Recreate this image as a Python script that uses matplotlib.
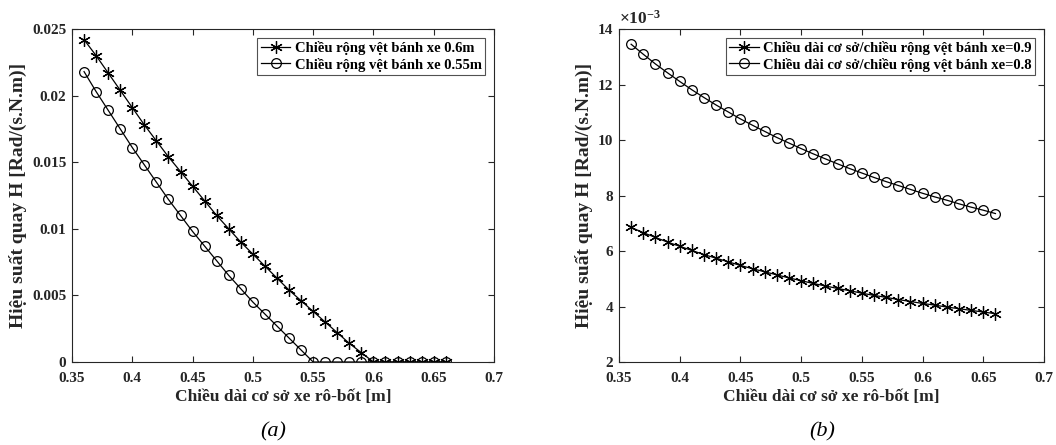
import matplotlib
matplotlib.use("Agg")
import matplotlib.pyplot as plt
from matplotlib.ticker import FuncFormatter

# ---- data ----
x_vals = [0.36, 0.37, 0.38, 0.39, 0.40, 0.41, 0.42, 0.43, 0.44, 0.45, 0.46,
          0.47, 0.48, 0.49, 0.50, 0.51, 0.52, 0.53, 0.54, 0.55, 0.56, 0.57,
          0.58, 0.59, 0.60, 0.61, 0.62, 0.63, 0.64, 0.65, 0.66]

h_a_060 = [0.0242, 0.0230, 0.0217, 0.0204, 0.0191, 0.0178, 0.0166, 0.0154,
           0.0143, 0.0132, 0.0121, 0.0110, 0.0100, 0.0090, 0.0081, 0.0072,
           0.0063, 0.0054, 0.0046, 0.0038, 0.0030, 0.0022, 0.0014, 0.0007,
           0.0, 0.0, 0.0, 0.0, 0.0, 0.0, 0.0]
h_a_055 = [0.0218, 0.0203, 0.0189, 0.0175, 0.0161, 0.0148, 0.0135, 0.0122,
           0.0110, 0.0098, 0.0087, 0.0076, 0.0065, 0.0055, 0.0045, 0.0036,
           0.0027, 0.0018, 0.0009, 0.0, 0.0, 0.0, 0.0, 0.0,
           0.0, 0.0, 0.0, 0.0, 0.0, 0.0, 0.0]

# panel (b) values in units of 1e-3
h_b_09 = [6.85, 6.66, 6.49, 6.32, 6.17, 6.02, 5.87, 5.74, 5.61, 5.48, 5.36,
          5.25, 5.14, 5.03, 4.93, 4.83, 4.74, 4.65, 4.57, 4.48, 4.40, 4.33,
          4.25, 4.18, 4.11, 4.05, 3.98, 3.92, 3.86, 3.80, 3.74]
h_b_08 = [13.45, 13.09, 12.74, 12.42, 12.11, 11.81, 11.53, 11.26, 11.01, 10.76,
          10.53, 10.31, 10.09, 9.89, 9.69, 9.50, 9.32, 9.14, 8.97, 8.81, 8.65,
          8.50, 8.36, 8.22, 8.08, 7.95, 7.83, 7.70, 7.58, 7.47, 7.35]

x_ticks = [0.35, 0.4, 0.45, 0.5, 0.55, 0.6, 0.65, 0.7]
y_ticks_a = [0, 0.005, 0.01, 0.015, 0.02, 0.025]
y_ticks_b = [2, 4, 6, 8, 10, 12, 14]

label_a1 = "Chiều rộng vệt bánh xe 0.6m"
label_a2 = "Chiều rộng vệt bánh xe 0.55m"
label_b1 = "Chiều dài cơ sở/chiều rộng vệt bánh xe=0.9"
label_b2 = "Chiều dài cơ sở/chiều rộng vệt bánh xe=0.8"
xlabel = "Chiều dài cơ sở xe rô-bốt [m]"
ylabel = "Hiệu suất quay H [Rad/(s.N.m)]"

# ---- style ----
plt.rcParams['font.family'] = ['Liberation Serif', 'DejaVu Serif']
plt.rcParams['font.weight'] = 'bold'
plt.rcParams['axes.labelweight'] = 'bold'
plt.rcParams['mathtext.fontset'] = 'custom'
plt.rcParams['mathtext.rm'] = 'Liberation Serif:bold'
plt.rcParams['mathtext.bf'] = 'Liberation Serif:bold'
plt.rcParams['mathtext.default'] = 'bf'

fig = plt.figure(figsize=(10.56, 4.45), dpi=100)
W, H = 1056, 445
ax1 = fig.add_axes([72 / W, (H - 362) / H, (494 - 72) / W, (362 - 29) / H])
ax2 = fig.add_axes([619 / W, (H - 362) / H, (1044 - 619) / W, (362 - 29) / H])

ASTERISK = (6, 2, 0)

def style(ax):
    ax.tick_params(direction='in', length=4, width=0.8, top=True, right=True,
                   labelsize=11, colors='#262626')
    ax.tick_params(axis='x', pad=7)
    ax.tick_params(axis='y', pad=4)
    for lab in ax.get_xticklabels() + ax.get_yticklabels():
        lab.set_fontweight('bold')
    for s in ax.spines.values():
        s.set_color('#262626')
        s.set_linewidth(0.8)
    ax.set_xlim(0.35, 0.7)
    ax.set_xticks(x_ticks)
    ax.xaxis.set_major_formatter(FuncFormatter(lambda v, p: f"{v:g}"))
    ax.set_xlabel(xlabel, fontsize=12.5, fontweight='bold', labelpad=3,
                  color='#262626')
    ax.set_ylabel(ylabel, fontsize=14, fontweight='bold', labelpad=4,
                  color='#262626')

mk = dict(color='black', linewidth=0.9, markerfacecolor='none',
          markeredgecolor='black', markeredgewidth=0.9)
legkw = dict(loc='upper right', frameon=True, fancybox=False,
             edgecolor='#262626', borderpad=0.25, handlelength=2.0,
             handletextpad=0.3, labelspacing=0.15, borderaxespad=0.6,
             prop={'weight': 'bold', 'size': 10.5})

ax1.plot(x_vals, h_a_060, marker=ASTERISK, markersize=9, label=label_a1, **mk)
ax1.plot(x_vals, h_a_055, marker='o', markersize=7, label=label_a2, **mk)
ax1.set_ylim(0, 0.025)
ax1.set_yticks(y_ticks_a)
ax1.yaxis.set_major_formatter(FuncFormatter(lambda v, p: f"{v:g}"))
style(ax1)
leg1 = ax1.legend(**legkw)
leg1.get_frame().set_linewidth(0.8)

ax2.plot(x_vals, h_b_09, marker=ASTERISK, markersize=9, label=label_b1, **mk)
ax2.plot(x_vals, h_b_08, marker='o', markersize=7, label=label_b2, **mk)
ax2.set_ylim(2, 14)
ax2.set_yticks(y_ticks_b)
style(ax2)
leg2 = ax2.legend(**legkw)
leg2.get_frame().set_linewidth(0.8)
ax2.text(0.0, 1.005, r"$\times\mathbf{10^{-3}}$", transform=ax2.transAxes,
         ha='left', va='bottom', fontsize=12.5, color='#262626')

fig.text(273 / W, 1 - 432 / H, "(a)", fontsize=16, style='italic',
         fontweight='normal', ha='center', va='center')
fig.text(822 / W, 1 - 432 / H, "(b)", fontsize=16, style='italic',
         fontweight='normal', ha='center', va='center')

fig.savefig("out.png", dpi=100)
